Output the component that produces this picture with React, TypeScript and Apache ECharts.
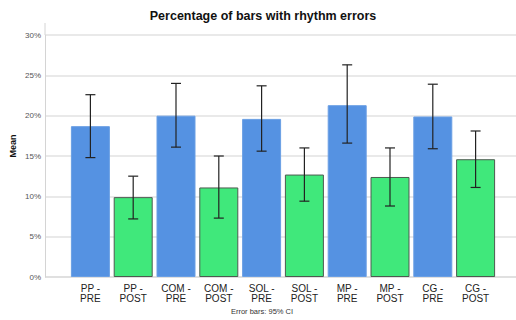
import React, { useEffect, useRef } from "react";
import * as echarts from "echarts";

const categories = ["PP -\nPRE", "PP -\nPOST", "COM -\nPRE", "COM -\nPOST", "SOL -\nPRE", "SOL -\nPOST", "MP -\nPRE", "MP -\nPOST", "CG -\nPRE", "CG -\nPOST"];
const means = [18.7, 9.9, 20.0, 11.1, 19.6, 12.7, 21.3, 12.4, 19.9, 14.6];
const ciLow = [14.8, 7.2, 16.1, 7.3, 15.6, 9.4, 16.6, 8.8, 15.9, 11.1];
const ciHigh = [22.6, 12.5, 24.0, 15.0, 23.7, 16.0, 26.3, 16.0, 23.9, 18.1];
const yTicks = [0, 5, 10, 15, 20, 25, 30];

const BLUE = "#5592E2";
const GREEN = "#40E87B";

export default function App() {
  const ref = useRef<HTMLDivElement>(null);
  useEffect(() => {
    document.body.style.margin = "0";
    if (!ref.current) return;
    const chart = echarts.init(ref.current, null, { renderer: "svg" });
    const font = "'Liberation Sans', Arial, sans-serif";
    chart.setOption({
      animation: false,
      textStyle: { fontFamily: font },
      title: {
        text: "Percentage of bars with rhythm errors",
        left: 258,
        textAlign: "center",
        top: 4,
        textStyle: { fontSize: 12.5, fontWeight: "bold", color: "#111", fontFamily: font },
      },
      grid: [
        { left: 45, right: 0, top: 35, bottom: 43 },
        { left: 69, right: 19, top: 35, bottom: 43 },
      ],
      xAxis: [
        { type: "value", gridIndex: 0, show: false, min: 0, max: 1 },
        {
          type: "category",
          gridIndex: 1,
          data: categories,
          axisLine: { show: false },
          axisTick: { show: false },
          axisLabel: { color: "#222", fontSize: 10, lineHeight: 10, margin: 6, fontFamily: font, interval: 0 },
        },
      ],
      yAxis: [
        {
          type: "value",
          gridIndex: 0,
          min: yTicks[0],
          max: yTicks[yTicks.length - 1],
          interval: 5,
          axisLine: { show: true, lineStyle: { color: "#d4d4d4" } },
          axisTick: { show: false },
          axisLabel: { formatter: "{value}%", color: "#555", fontSize: 8, margin: 4, fontFamily: font },
          splitLine: { show: true, lineStyle: { color: "#e2e2e2", width: 1.5 } },
        },
        { type: "value", gridIndex: 1, min: 0, max: 30, interval: 5, show: false },
      ],
      graphic: [
        { type: "line", shape: { x1: 45, y1: 23, x2: 45, y2: 35 }, style: { stroke: "#d4d4d4", lineWidth: 1 } },
        { type: "line", shape: { x1: 45, y1: 277, x2: 516, y2: 277 }, style: { stroke: "#cfcfcf", lineWidth: 1.5 } },
        {
          type: "text",
          x: 13,
          y: 146,
          rotation: Math.PI / 2,
          style: { text: "Mean", fontSize: 9, fontWeight: "bold", fill: "#111", align: "center", verticalAlign: "middle", fontFamily: font },
        },
        {
          type: "text",
          x: 262,
          y: 311,
          style: { text: "Error bars: 95% CI", fontSize: 7.5, fill: "#333", align: "center", verticalAlign: "middle", fontFamily: font },
        },
      ],
      series: [
        {
          type: "bar",
          xAxisIndex: 1,
          yAxisIndex: 1,
          barWidth: 39,
          data: means.map((v, i) => ({
            value: v,
            itemStyle: i % 2 === 0
              ? { color: BLUE, borderColor: "#6a9fe4", borderWidth: 1 }
              : { color: GREEN, borderColor: "#4d5a50", borderWidth: 1 },
          })),
        },
        {
          type: "custom",
          xAxisIndex: 1,
          yAxisIndex: 1,
          data: means.map((_, i) => [i, ciLow[i], ciHigh[i]]),
          renderItem: (params: any, api: any) => {
            const x = api.value(0);
            const lo = api.coord([x, api.value(1)]);
            const hi = api.coord([x, api.value(2)]);
            const w = 5;
            const style = { stroke: "#222", lineWidth: 1.2 };
            return {
              type: "group",
              children: [
                { type: "line", shape: { x1: lo[0], y1: lo[1], x2: hi[0], y2: hi[1] }, style },
                { type: "line", shape: { x1: lo[0] - w, y1: lo[1], x2: lo[0] + w, y2: lo[1] }, style },
                { type: "line", shape: { x1: hi[0] - w, y1: hi[1], x2: hi[0] + w, y2: hi[1] }, style },
              ],
            };
          },
          z: 10,
        },
      ],
    });
    return () => chart.dispose();
  }, []);
  return <div ref={ref} style={{ width: 516, height: 320 }} />;
}
